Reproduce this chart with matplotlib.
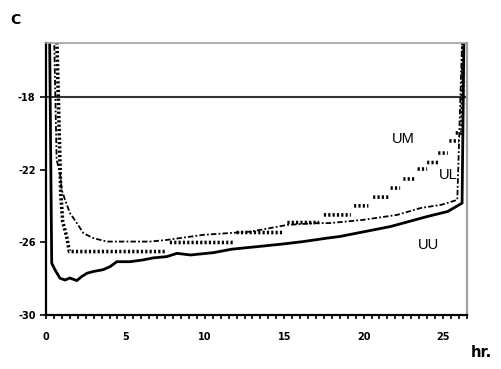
import matplotlib
matplotlib.use("Agg")
import matplotlib.pyplot as plt
from matplotlib.ticker import MultipleLocator

nan = float("nan")

# hours vs. value for the three series
uu_t = [0.2, 0.36, 0.57, 0.88, 1.2, 1.5, 1.94, 2.25, 2.57, 2.98, 3.6, 4.04, 4.46,
        5.3, 6.12, 6.75, 7.6, 8.25, 9.1, 10.55, 11.7, 13.3, 14.95, 16.2, 17.7,
        18.5, 21.7, 24.0, 25.3, 26.2, 26.35]
uu_v = [-12, -27.14, -27.51, -27.97, -28.07, -27.96, -28.1, -27.88, -27.7, -27.6,
        -27.5, -27.33, -27.06, -27.06, -26.96, -26.85, -26.78, -26.6, -26.69,
        -26.56, -26.37, -26.23, -26.08, -25.95, -25.76, -25.67, -25.12, -24.57,
        -24.29, -23.83, -12]

ul_t = [0.45, 0.67, 0.88, 0.99, 1.2, 1.51, 1.94, 2.36, 2.98, 3.83, 5.1, 6.56, 7.6,
        9.9, 12.9, 15.2, 17.1, 17.9, 20.0, 22.1, 23.6, 24.9, 25.9, 26.3]
ul_v = [-12, -21.44, -22.17, -23.1, -23.65, -24.38, -24.93, -25.49, -25.76, -25.95,
        -25.95, -25.95, -25.86, -25.58, -25.4, -25.03, -24.93, -24.93, -24.75,
        -24.48, -24.1, -23.92, -23.65, -12]

# UM rises in plateaus; nan breaks the line between plateaus
um_t = [0.6, 0.93, 1.05, 1.3, 1.47, 7.6, nan,
        7.8, 11.8, nan, 12.0, 15.0, nan, 15.2, 17.2, nan, 17.5, 19.2, nan,
        19.4, 20.3, nan, 20.6, 21.6, nan, 21.7, 22.3, nan, 22.5, 23.2, nan,
        23.4, 24.0, nan, 24.0, 24.7, nan, 24.7, 25.3, nan, 25.4, 26.0, nan,
        25.8, 26.2, 26.3]
um_v = [-12, -23.28, -24.85, -25.67, -26.5, -26.5, nan,
        -26.0, -26.0, nan, -25.45, -25.45, nan, -24.9, -24.9, nan, -24.48, -24.48, nan,
        -23.98, -23.98, nan, -23.5, -23.5, nan, -23.0, -23.0, nan, -22.5, -22.5, nan,
        -21.95, -21.95, nan, -21.59, -21.59, nan, -21.07, -21.07, nan, -20.4, -20.4, nan,
        -19.96, -19.96, -12]

ref_level = -18
y_ticks = [-18, -22, -26, -30]
x_ticks = [0, 5, 10, 15, 20, 25]

fig = plt.figure(figsize=(5.01, 3.69), dpi=100)
ax = fig.add_axes([0.0918, 0.1463, 0.840, 0.7372])

ax.axhline(ref_level, color="#333333", lw=1.5)
ax.plot(uu_t, uu_v, color="black", lw=2.0, solid_joinstyle="miter")
ax.plot(ul_t, ul_v, color="black", lw=1.3, linestyle=(0, (3, 1.2, 1, 1.2)))
ax.plot(um_t, um_v, color="black", lw=2.6, linestyle=(0, (0.6, 0.6)))

ax.set_xlim(0, 26.5)
ax.set_ylim(-30, -15)
ax.set_yticks(y_ticks)
ax.set_yticklabels([str(v) for v in y_ticks])
ax.set_xticks(x_ticks)
ax.xaxis.set_minor_locator(MultipleLocator(0.5))
ax.tick_params(axis="x", which="both", direction="out", length=3, width=1.2,
               labelsize=7, pad=9)
ax.tick_params(axis="y", direction="out", length=4, width=1.2, labelsize=7)
for lab in ax.get_xticklabels() + ax.get_yticklabels():
    lab.set_fontweight("bold")

ax.spines["left"].set_linewidth(1.6)
ax.spines["bottom"].set_linewidth(1.6)
ax.spines["top"].set_color("#9aa3a3")
ax.spines["top"].set_linewidth(1.2)
ax.spines["right"].set_color("#9aa3a3")
ax.spines["right"].set_linewidth(1.6)

lab_font = dict(family="Liberation Sans", fontsize=10.5, color="black")
ax.text(22.5, -20.3, "UM", ha="center", va="center", **lab_font)
ax.text(25.3, -22.3, "UL", ha="center", va="center", **lab_font)
ax.text(24.1, -26.15, "UU", ha="center", va="center", **lab_font)

fig.text(0.020, 0.965, "C", fontsize=10, fontweight="bold", ha="left", va="top")
fig.text(0.940, 0.045, "hr.", fontsize=10.5, fontweight="bold", ha="left",
         va="center")

fig.savefig("out.png", dpi=100)
